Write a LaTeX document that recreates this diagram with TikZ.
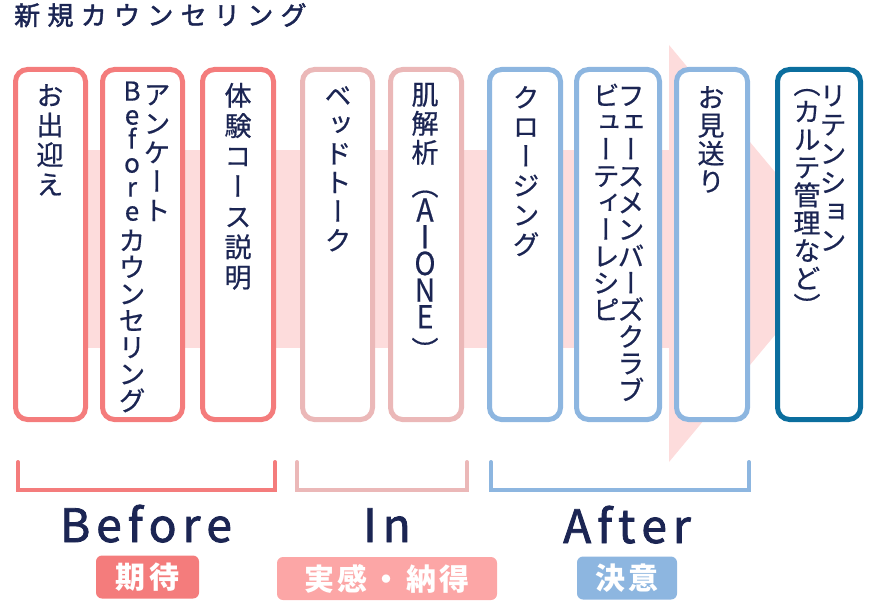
\documentclass[tikz,border=0pt]{standalone}
\usepackage{fontspec}
\usepackage{graphicx}
\setmainfont{Noto Sans CJK JP}
\newfontfamily\jpv{Noto Sans CJK JP}[RawFeature=+vert, FakeBold=0.6]
\newfontfamily\jpm{Noto Sans CJK JP}[FakeBold=1.8]

\definecolor{navy}{HTML}{1B2553}
\definecolor{bred}{HTML}{F47C7C}
\definecolor{bpink}{HTML}{EBB8B8}
\definecolor{bblue}{HTML}{8DB6E0}
\definecolor{bteal}{HTML}{0B6E9E}
\definecolor{bandpink}{HTML}{FDDCDC}
\definecolor{tagpink}{HTML}{FCA6A6}

% vertical stacking of characters
\newlength\vcw \setlength\vcw{34pt}
\def\vstk#1{\vstkloop#1\relax}
\def\vstkloop#1{\ifx\relax#1\else\hbox to\vcw{\hss\vrule width0pt height .88em depth .12em\relax#1\hss}\expandafter\vstkloop\fi}
\newcommand\vfs[2]{\fontsize{#1}{#2}\selectfont\baselineskip=#2\relax}
\newcommand\vcol[2]{\vbox{\jpv\lineskiplimit=-100pt\lineskip=0pt\vfs{27pt}{#1}\vstk{#2}}}
% tall upright latin letters
\newcommand\tl[1]{\scalebox{1.05}[1.17]{#1}}
\newcommand\lA{\tl{A}}\newcommand\lI{\tl{I}}\newcommand\lO{\tl{O}}
\newcommand\lN{\tl{N}}\newcommand\lE{\tl{E}}

% letter spaced horizontal text
\newlength\lspk
\def\lsploop#1{\ifx\relax#1\else#1\kern\lspk\expandafter\lsploop\fi}
\newcommand\lsp[2]{\setlength\lspk{#1}\lsploop#2\relax\unkern}

\tikzset{
  stepcard/.style={draw=#1, line width=5pt, rounded corners=12pt, fill=white,
    minimum height=350pt, inner sep=0pt},
  coltext/.style={anchor=north, inner sep=0pt, text=navy},
  brk/.style={line width=4pt, line cap=round, line join=miter},
  tagbox/.style={fill=#1, rounded corners=6pt, text=white, inner sep=0pt,
    minimum height=43pt, font=\fontsize{30pt}{30pt}\selectfont\bfseries},
  phase/.style={anchor=base, inner sep=0pt, text=navy, font=\jpm\fontsize{46pt}{46pt}\selectfont},
}

\begin{document}
\begin{tikzpicture}[x=1pt,y=-1pt]
\useasboundingbox (0,0) rectangle (875,615);

% big background arrow
\fill[bandpink] (50,150) rectangle (669,348);
\fill[bandpink] (669,45) -- (843,253.5) -- (669,462) -- cycle;

% title
\node[anchor=base west, inner sep=0pt, text=navy, font=\jpm\fontsize{26pt}{26pt}\selectfont]
  (title) at (14,25) {\lsp{7.3pt}{新規カウンセリング}};

% step cards
\node[stepcard=bred,  minimum width=70pt] (b1) at (50.5,244.5) {};
\node[stepcard=bred,  minimum width=80pt] (b2) at (142.5,244.5) {};
\node[stepcard=bred,  minimum width=71pt] (b3) at (238,244.5) {};
\node[stepcard=bpink, minimum width=70pt] (b4) at (337.5,244.5) {};
\node[stepcard=bpink, minimum width=71pt] (b5) at (426,244.5) {};
\node[stepcard=bblue, minimum width=71pt] (b6) at (525,244.5) {};
\node[stepcard=bblue, minimum width=83pt] (b7) at (618,244.5) {};
\node[stepcard=bblue, minimum width=71pt] (b8) at (712,244.5) {};
\node[stepcard=bteal, minimum width=83pt] (b9) at (819,244.5) {};

% vertical texts
\node[coltext] (t1) at (50,81.6) {\vcol{29.7pt}{お出迎え}};
\node[coltext] (t2a) at (157,80.6) {\vcol{29pt}{アンケート}};
\node[coltext] (t2b) at (132,77.5) {\vbox{\jpv\lineskiplimit=-100pt\lineskip=0pt
   \vfs{26pt}{24pt}\vstk{Before}\vfs{27pt}{30pt}\vstk{カ}\baselineskip=26.7pt\vstk{ウンセリング}}};
\node[coltext] (t3) at (238,81.6) {\vcol{30.3pt}{体験コース説明}};
\node[coltext] (t4) at (338,81.6) {\vcol{29pt}{ベッドトーク}};
\node[coltext] (t5) at (425,80.6) {\vbox{\jpv\lineskiplimit=-100pt\lineskip=0pt
   \vfs{27pt}{29pt}\vstk{肌解析}\baselineskip=33pt\vstk{（}\baselineskip=26pt\vstk{\lA}\baselineskip=26.7pt\vstk{\lI\lO\lN\lE}\baselineskip=32pt\vstk{）}}};
\node[coltext] (t6) at (526,83.6) {\vcol{29.4pt}{クロージング}};
\node[coltext] (t7a) at (631,81.6) {\vcol{26.8pt}{フェースメンバーズクラブ}};
\node[coltext] (t7b) at (606,81.6) {\vcol{26.8pt}{ビューティーレシピ}};
\node[coltext] (t8) at (711,83.6) {\vcol{28pt}{お見送り}};
\node[coltext] (t9a) at (833,81.6) {\vcol{29pt}{リテンション}};
\node[coltext] (t9b) at (807,70) {\vbox{\jpv\lineskiplimit=-100pt\lineskip=0pt
   \vfs{27pt}{27pt}\vstk{（}\baselineskip=27.8pt\vstk{カルテ管理など}\vstk{）}}};

% brackets
\draw[brk, bred]  (18,462) -- (18,490) -- (275,490) -- (275,462);
\draw[brk, bpink] (297,462) -- (297,490) -- (467,490) -- (467,462);
\draw[brk, bblue] (491,462) -- (491,490) -- (749,490) -- (749,462);

% phase labels
\node[phase] (p1) at (146,542) {\lsp{6pt}{Before}};
\node[phase] (p2) at (387,542) {\lsp{6pt}{In}};
\node[phase] (p3) at (627,543) {\lsp{6pt}{After}};

% tags
\node[tagbox=bred, minimum width=103pt] (g1) at (147.5,577) {\lsp{4pt}{期待}};
\node[tagbox=tagpink, minimum width=220pt] (g2) at (387,578.5) {\lsp{4pt}{実感・納得}};
\node[tagbox=bblue, minimum width=100pt] (g3) at (627,578) {\lsp{4pt}{決意}};
\end{tikzpicture}
\end{document}
